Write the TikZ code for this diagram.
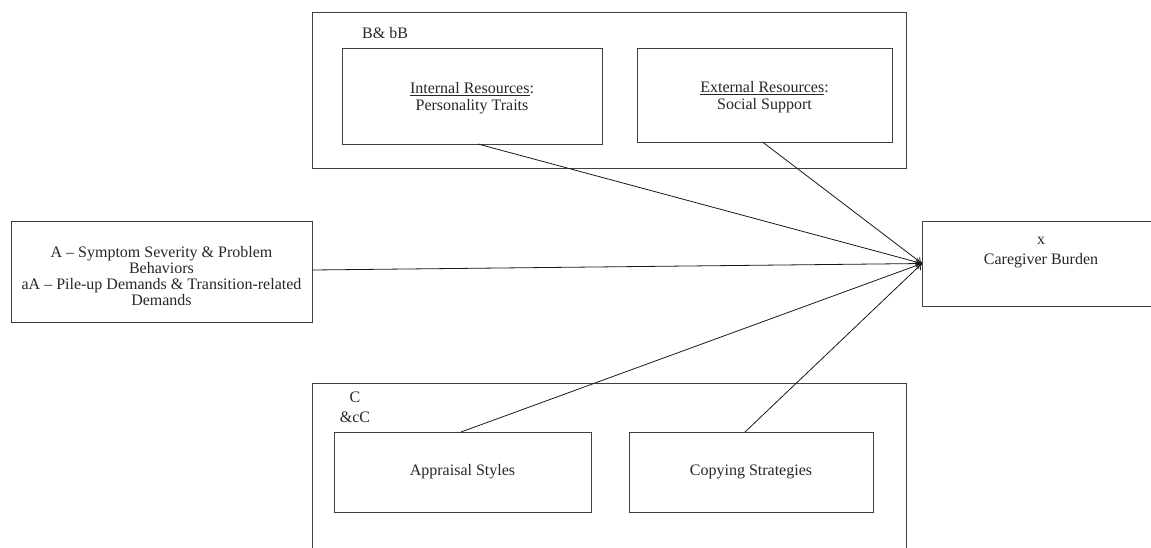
\documentclass[tikz,border=0pt]{standalone}
\usepackage{fontspec}
\setmainfont{Liberation Serif}
\usetikzlibrary{arrows.meta}
\begin{document}
\begin{tikzpicture}[x=1pt,y=-1pt,
  box/.style={draw=black!75,line width=0.9pt,inner sep=0pt,outer sep=0pt,align=center,text=black!85},
  lbl/.style={inner sep=0pt,align=center,text=black!85},
  conn/.style={draw=black!90,line width=0.8pt,-{To[length=6pt,width=8pt]}},
  font=\fontsize{16}{17}\selectfont]
\useasboundingbox (0,0) rectangle (1151,547);
% top group
\node[box,minimum width=594,minimum height=156] (topgrp) at (609,90) {};
\node[lbl,anchor=west] (blabel) at (362,33) {B\& bB};
\node[box,minimum width=260,minimum height=96] (internal) at (472,96) {};
\node[lbl] (internaltext) at (472,98.5) {\underline{Internal Resources}:\\Personality Traits};
\node[box,minimum width=255,minimum height=94] (external) at (764.5,95) {};
\node[lbl] (externaltext) at (764.5,97) {\underline{External Resources}:\\Social Support};
% left
\node[box,minimum width=301,minimum height=101] (demand) at (161.5,271.5) {};
\node[lbl,font=\fontsize{16}{16}\selectfont] (demandtext) at (161.5,276) {A – Symptom Severity \& Problem\\Behaviors\\aA – Pile-up Demands \& Transition-related\\Demands};
% right
\node[box,minimum width=240,minimum height=85] (burden) at (1042,263.5) {};
\node[lbl,font=\fontsize{16}{20}\selectfont] (burdentext) at (1041,253) {x\\Caregiver Burden};
% bottom group
\node[box,minimum width=594,minimum height=177] (botgrp) at (609,471.5) {};
\node[lbl,font=\fontsize{16}{20}\selectfont] (clabel) at (355,407) {C\\\&cC};
\node[box,minimum width=257,minimum height=80] (appraisal) at (462.5,472) {Appraisal Styles};
\node[box,minimum width=244,minimum height=80] (copying) at (751,472) {Copying Strategies};
% connectors
\draw[conn] ([xshift=6pt]internal.south) -- (burden.west);
\draw[conn] ([xshift=-2pt]external.south) -- (burden.west);
\draw[conn] ([yshift=1.5pt]demand.east) -- (burden.west);
\draw[conn] ([xshift=-1.5pt]appraisal.north) -- (burden.west);
\draw[conn] ([xshift=-6pt]copying.north) -- (burden.west);
\end{tikzpicture}
\end{document}
